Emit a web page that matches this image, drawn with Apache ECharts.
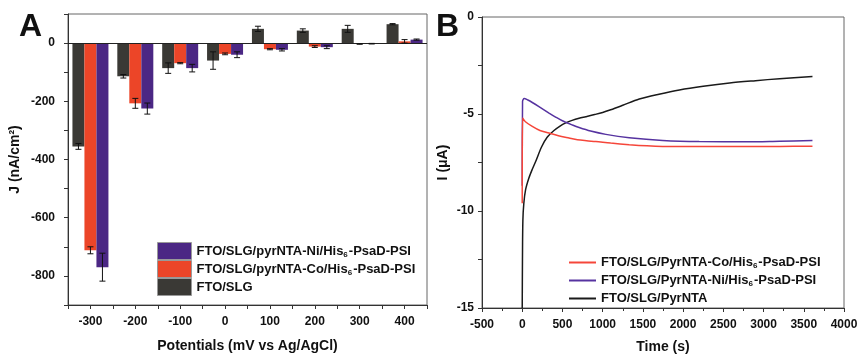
<!DOCTYPE html>
<html>
<head>
<meta charset="utf-8">
<script src="https://cdn.jsdelivr.net/npm/echarts@6/dist/echarts.min.js"></script>
<style>
  html, body { margin: 0; padding: 0; background: #fff; }
  #main { width: 857px; height: 354px; }
</style>
</head>
<body>
<div id="main"></div>
<script>
// panel A: current density at each potential
const potentials = [-300, -200, -100, 0, 100, 200, 300, 400];
const slgJ = [-355, -114, -86, -60, 49, 43, 49, 65];
const slgErr = [10, 6, 18, 30, 9, 6, 12, 2];
const coJ = [-712, -207, -69, -37, -21, -12, -3, 6];
const coErr = [12, 17, 2, 3, 2, 3, 1, 6];
const niJ = [-770, -225, -86, -40, -23, -14, -2, 12];
const niErr = [48, 19, 13, 10, 4, 5, 1, 2];

// panel B: current vs time
const tCo = [0, 4, 40, 125, 220, 333, 450, 582, 686, 800, 915, 1100, 1330, 1550, 1746, 2200, 2800, 3200, 3608];
const iCo = [-9.6, -5.2, -5.4, -5.64, -5.85, -5.98, -6.12, -6.24, -6.33, -6.38, -6.42, -6.5, -6.58, -6.64, -6.67, -6.68, -6.68, -6.67, -6.66];
const tNi = [0, 4, 25, 70, 130, 208, 333, 420, 499, 624, 707, 850, 1040, 1330, 1746, 2200, 2800, 3200, 3608];
const iNi = [-8.7, -4.35, -4.2, -4.28, -4.42, -4.62, -4.95, -5.17, -5.35, -5.57, -5.7, -5.88, -6.05, -6.22, -6.36, -6.42, -6.43, -6.4, -6.37];
const tPyr = [0, 3, 8, 20, 42, 83, 125, 167, 240, 310, 395, 470, 541, 620, 707, 790, 900, 1000, 1100, 1250, 1455, 1700, 1954, 2250, 2578, 2900, 3200, 3608];
const iPyr = [-15, -12.5, -10.5, -9.6, -8.9, -8.3, -7.85, -7.45, -6.7, -6.2, -5.85, -5.62, -5.46, -5.33, -5.22, -5.14, -5.03, -4.92, -4.78, -4.55, -4.23, -3.98, -3.76, -3.57, -3.4, -3.28, -3.18, -3.07];

const FONT = '"Liberation Sans", Arial, sans-serif';
const NAME_NI = 'FTO/SLG/pyrNTA-Ni/His6-PsaD-PSI';
const NAME_CO = 'FTO/SLG/pyrNTA-Co/His6-PsaD-PSI';
const NAME_SLG = 'FTO/SLG';
const NAME_B_CO = 'FTO/SLG/PyrNTA-Co/His6-PsaD-PSI';
const NAME_B_NI = 'FTO/SLG/PyrNTA-Ni/His6-PsaD-PSI';
const NAME_B_PYR = 'FTO/SLG/PyrNTA';

const BAR_W = 12;

function pairs(xs, ys) {
  return xs.map((x, i) => [x, ys[i]]);
}

function errData(vals, errs) {
  return potentials.map((p, i) => [p, vals[i], errs[i]]);
}

// subscript the 6 in His6
function subName(name) {
  return name.replace('His6', 'His{s|6}');
}

// error bar drawn through the axes, shifted sideways to sit on its bar
function errRender(shift) {
  return function (params, api) {
    const x = api.value(0), y = api.value(1), e = api.value(2);
    const lo = api.coord([x, y - e]);
    const hi = api.coord([x, y + e]);
    const cx = lo[0] + shift;
    const style = { stroke: '#111', lineWidth: 1 };
    return {
      type: 'group',
      children: [
        { type: 'line', shape: { x1: cx, y1: lo[1], x2: cx, y2: hi[1] }, style: style },
        { type: 'line', shape: { x1: cx - 3, y1: lo[1], x2: cx + 3, y2: lo[1] }, style: style },
        { type: 'line', shape: { x1: cx - 3, y1: hi[1], x2: cx + 3, y2: hi[1] }, style: style }
      ]
    };
  };
}

const axisText = { fontFamily: FONT, fontWeight: 'bold', fontSize: 12, color: '#111' };
const nameText = { fontFamily: FONT, fontWeight: 'bold', fontSize: 14, color: '#111' };
const lineCol = { color: '#333', width: 1 };
const legendText = {
  fontFamily: FONT, fontWeight: 'bold', fontSize: 13, color: '#111',
  rich: {
    s: { fontFamily: FONT, fontWeight: 'bold', fontSize: 8, color: '#111', padding: [7, 1, 0, 0] }
  }
};

var chart = echarts.init(document.getElementById('main'), null, { renderer: 'canvas' });

var option = {
  animation: false,
  backgroundColor: '#fff',
  title: [
    { text: 'A', left: 14, top: 6, textStyle: { fontFamily: FONT, fontSize: 32, fontWeight: 'bold', color: '#111' } },
    { text: 'B', left: 431, top: 6, textStyle: { fontFamily: FONT, fontSize: 32, fontWeight: 'bold', color: '#111' } }
  ],
  grid: [
    { left: 68, top: 14, right: 430, bottom: 49, outerBoundsMode: 'none', show: true, borderColor: '#666', borderWidth: 1 },
    { left: 482, top: 17, right: 13, bottom: 46, outerBoundsMode: 'none', show: true, borderColor: '#666', borderWidth: 1 }
  ],
  legend: [
    {
      data: [NAME_NI, NAME_CO, NAME_SLG],
      orient: 'vertical',
      left: 152, top: 237,
      icon: 'rect',
      itemWidth: 34, itemHeight: 17, itemGap: 0,
      formatter: subName,
      textStyle: legendText,
      itemStyle: { borderColor: '#999', borderWidth: 1 }
    },
    {
      data: [NAME_B_CO, NAME_B_NI, NAME_B_PYR],
      orient: 'vertical',
      left: 564, top: 251,
      icon: 'rect',
      itemWidth: 27, itemHeight: 2, itemGap: 4,
      formatter: subName,
      textStyle: legendText
    }
  ],
  xAxis: [
    {
      gridIndex: 0, type: 'value', min: -350, max: 450, interval: 50,
      axisLine: { onZero: false, lineStyle: lineCol },
      axisTick: { length: 4, lineStyle: lineCol },
      splitLine: { show: false },
      axisLabel: Object.assign({ margin: 11, formatter: v => (v % 100 === 0 ? String(v) : '') }, axisText),
      name: 'Potentials (mV vs Ag/AgCl)', nameLocation: 'middle', nameGap: 34, nameTextStyle: nameText
    },
    {
      gridIndex: 1, type: 'value', min: -500, max: 4000, interval: 500,
      axisLine: { onZero: false, lineStyle: lineCol },
      axisTick: { length: 4, lineStyle: lineCol },
      minorTick: { show: true, splitNumber: 2, length: 3, lineStyle: lineCol },
      splitLine: { show: false },
      axisLabel: Object.assign({ margin: 11, formatter: v => String(v) }, axisText),
      name: 'Time (s)', nameLocation: 'middle', nameGap: 32, nameTextStyle: nameText
    }
  ],
  yAxis: [
    {
      gridIndex: 0, type: 'value', min: -900, max: 100, interval: 100,
      axisLine: { show: true, onZero: false, lineStyle: lineCol },
      axisTick: { show: true, length: 4, lineStyle: lineCol },
      splitLine: { show: false },
      axisLabel: Object.assign({ margin: 13, formatter: v => (v % 200 === 0 ? String(v) : '') }, axisText),
      name: 'J (nA/cm²)', nameLocation: 'middle', nameGap: 46, nameTextStyle: nameText
    },
    {
      gridIndex: 1, type: 'value', min: -15, max: 0, interval: 2.5,
      axisLine: { show: true, onZero: false, lineStyle: lineCol },
      axisTick: { show: true, length: 4, lineStyle: lineCol },
      splitLine: { show: false },
      axisLabel: Object.assign({ margin: 8, formatter: v => (v % 5 === 0 ? String(v) : '') }, axisText),
      name: 'I (μA)', nameLocation: 'middle', nameGap: 32, nameTextStyle: nameText
    }
  ],
  series: [
    {
      name: NAME_SLG, type: 'bar', xAxisIndex: 0, yAxisIndex: 0,
      barWidth: BAR_W, barGap: '0%',
      itemStyle: { color: '#3a3935' },
      data: pairs(potentials, slgJ),
      markLine: {
        silent: true, symbol: 'none', label: { show: false },
        lineStyle: { color: '#222', width: 1, type: 'solid' },
        data: [{ yAxis: 0 }]
      }
    },
    {
      name: NAME_CO, type: 'bar', xAxisIndex: 0, yAxisIndex: 0,
      barWidth: BAR_W, barGap: '0%',
      itemStyle: { color: '#ec4528' },
      data: pairs(potentials, coJ)
    },
    {
      name: NAME_NI, type: 'bar', xAxisIndex: 0, yAxisIndex: 0,
      barWidth: BAR_W, barGap: '0%',
      itemStyle: { color: '#4b2784' },
      data: pairs(potentials, niJ)
    },
    { type: 'custom', xAxisIndex: 0, yAxisIndex: 0, renderItem: errRender(-BAR_W), data: errData(slgJ, slgErr), z: 5 },
    { type: 'custom', xAxisIndex: 0, yAxisIndex: 0, renderItem: errRender(0), data: errData(coJ, coErr), z: 5 },
    { type: 'custom', xAxisIndex: 0, yAxisIndex: 0, renderItem: errRender(BAR_W), data: errData(niJ, niErr), z: 5 },
    {
      name: NAME_B_PYR, type: 'line', xAxisIndex: 1, yAxisIndex: 1,
      showSymbol: false, symbol: 'none', smooth: 0.3,
      lineStyle: { color: '#1a1a1a', width: 1.5 }, itemStyle: { color: '#1a1a1a' },
      data: pairs(tPyr, iPyr)
    },
    {
      name: NAME_B_NI, type: 'line', xAxisIndex: 1, yAxisIndex: 1,
      showSymbol: false, symbol: 'none', smooth: 0.3,
      lineStyle: { color: '#5633a0', width: 1.5 }, itemStyle: { color: '#5633a0' },
      data: pairs(tNi, iNi)
    },
    {
      name: NAME_B_CO, type: 'line', xAxisIndex: 1, yAxisIndex: 1,
      showSymbol: false, symbol: 'none', smooth: 0.3,
      lineStyle: { color: '#f5463a', width: 1.5 }, itemStyle: { color: '#f5463a' },
      data: pairs(tCo, iCo)
    }
  ]
};

option && chart.setOption(option);
</script>
</body>
</html>
